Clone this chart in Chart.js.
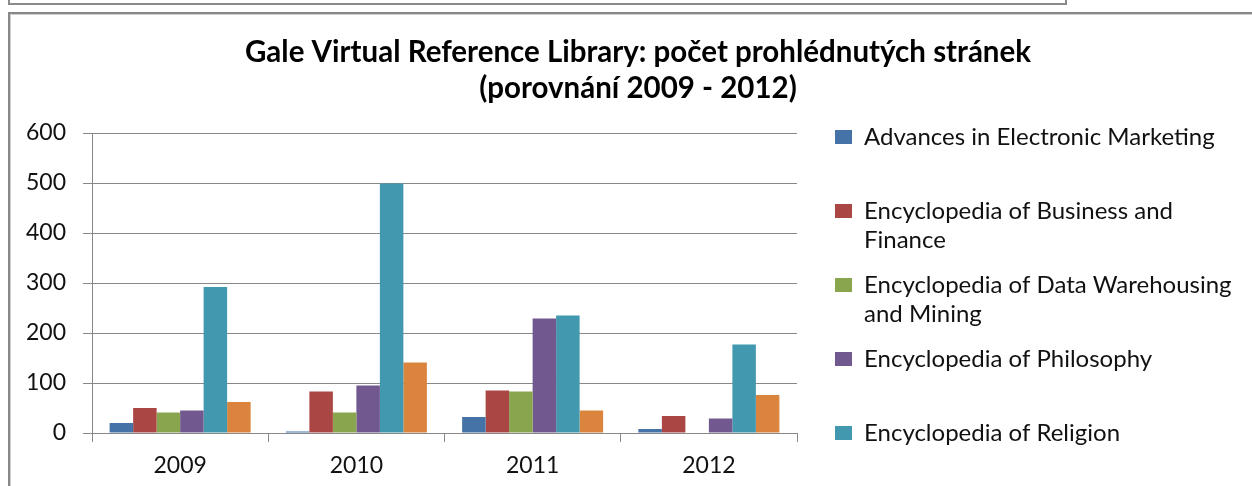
<!DOCTYPE html>
<html>
<head>
<meta charset="utf-8">
<script src="https://cdn.jsdelivr.net/npm/chart.js@4/dist/chart.umd.min.js"></script>
<style>
  html, body { margin: 0; padding: 0; background: #fff; overflow: hidden; }
  #topBox {
    position: absolute; left: 8px; top: -20px; width: 1059px; height: 25px;
    box-sizing: border-box; border: 2px solid #8a8a8a;
  }
  #frame {
    position: absolute; left: 8px; top: 12px; width: 1400px; height: 700px;
    box-sizing: border-box; border: 2px solid #888;
    box-shadow: inset 1px 1px 0 #cfcfcf;
  }
  #wrap { position: absolute; left: 0; top: 0; width: 1252px; height: 640px; }
</style>
</head>
<body>
<div id="topBox"></div>
<div id="frame"></div>
<div id="wrap"><canvas id="myChart" width="1252" height="640"></canvas></div>
<script>
// values
let categories = ['2009', '2010', '2011', '2012'];
let titleLines = [
    'Gale Virtual Reference Library: počet prohlédnutých stránek',
    '(porovnání 2009 - 2012)'
];
let seriesNames = [
    'Advances in Electronic Marketing',
    'Encyclopedia of Business and Finance',
    'Encyclopedia of Data Warehousing and Mining',
    'Encyclopedia of Philosophy',
    'Encyclopedia of Religion',
    'Encyclopedia of Management'
];
let legendLines = [
    ['Advances in Electronic Marketing', ''],
    ['Encyclopedia of Business and', 'Finance'],
    ['Encyclopedia of Data Warehousing', 'and Mining'],
    ['Encyclopedia of Philosophy', ''],
    ['Encyclopedia of Religion', ''],
    ['Encyclopedia of Management', '']
];
let advances = [20, 3, 32, 8];
let business = [50, 83, 85, 34];
let dataWarehousing = [41, 41, 83, 0];
let philosophy = [45, 95, 229, 29];
let religion = [292, 499, 235, 177];
let management = [62, 141, 45, 76];
let colors = ['#4572A7', '#AA4643', '#89A54E', '#71588F', '#4198AF', '#DB843D'];
let yTicks = [0, 100, 200, 300, 400, 500, 600];

let values = [advances, business, dataWarehousing, philosophy, religion, management];
let font = 'Lato';
let gridColor = '#888888';

// keep the legend column a fixed width so the plot ends where the original does
const legendWidth = {
    id: 'legendWidth',
    beforeLayout(chart) {
        let lg = chart.legend;
        if (lg && !lg._fixed) {
            let fit = lg.fit.bind(lg);
            lg.fit = function () { fit(); this.width = 433; };
            lg._fixed = true;
        }
    }
};

let config = {
    type: 'bar',
    data: {
        labels: categories,
        datasets: values.map((v, i) => ({
            label: seriesNames[i],
            data: v,
            backgroundColor: colors[i],
            borderWidth: 0,
            categoryPercentage: 0.8,
            barPercentage: 1.0
        }))
    },
    options: {
        responsive: false,
        animation: false,
        layout: { padding: { left: 24, top: 20, right: 0, bottom: 0 } },
        plugins: {
            title: {
                display: true,
                text: titleLines,
                color: '#000',
                font: { family: font, size: 29.5, weight: 'bold', lineHeight: 36 / 29.5 },
                padding: { top: 14, bottom: 27 }
            },
            legend: {
                position: 'right',
                align: 'start',
                title: {
                    display: true,
                    text: '',
                    font: { size: 10, lineHeight: 1 },
                    padding: { top: 79, bottom: 0 }
                },
                labels: {
                    boxWidth: 17,
                    boxHeight: 14,
                    padding: 16,
                    color: '#111',
                    font: { family: font, size: 24, lineHeight: 29 / 24 },
                    generateLabels(chart) {
                        let items = Chart.defaults.plugins.legend.labels.generateLabels(chart);
                        items.forEach((it, i) => { it.text = legendLines[i]; });
                        return items;
                    }
                }
            },
            tooltip: { enabled: false }
        },
        scales: {
            x: {
                grid: { drawOnChartArea: false, drawTicks: true, tickLength: 9, color: gridColor, offset: true },
                border: { color: gridColor },
                ticks: { color: '#111', padding: 10, font: { family: font, size: 23 } },
                afterFit(s) { s.height = 640 - 433; }
            },
            y: {
                min: 0,
                max: 600,
                afterBuildTicks(s) { s.ticks = yTicks.map(v => ({ value: v })); },
                grid: { color: gridColor, tickLength: 9 },
                border: { color: gridColor },
                ticks: { color: '#111', padding: 17, font: { family: font, size: 23 } },
                afterFit(s) { s.width = 68; }
            },
            yR: {
                type: 'linear',
                position: 'right',
                display: true,
                grid: { display: false },
                border: { display: false },
                ticks: { display: false },
                afterFit(s) { s.width = 22; }
            }
        }
    },
    plugins: [legendWidth]
};

new Chart(document.getElementById('myChart'), config);
</script>
</body>
</html>
